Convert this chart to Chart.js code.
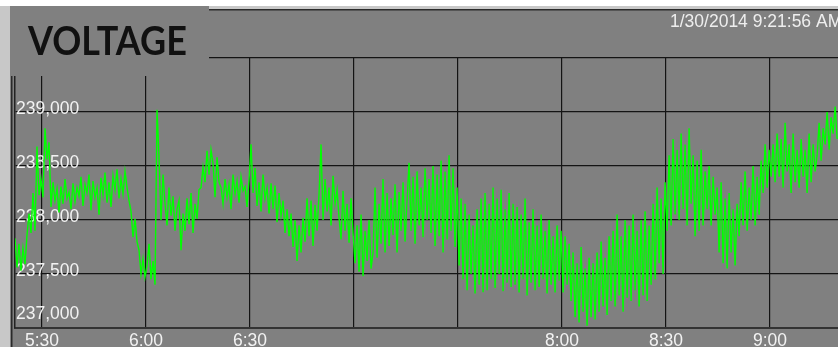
<!DOCTYPE html>
<html>
<head>
<meta charset="utf-8">
<title>Voltage</title>
<script src="https://cdn.jsdelivr.net/npm/chart.js@4.4.1/dist/chart.umd.min.js"></script>
<style>
  html, body { margin: 0; padding: 0; background: #fff; overflow: hidden; }
  #chart { display: block; }
</style>
</head>
<body>
<canvas id="chart" width="838" height="347"></canvas>
<script>
var chartTitle = "VOLTAGE";
var stampText = "1/30/2014 9:21:56 AM";

// minutes after midnight, one reading every ~35 s
var startMinute = 322.2;
var stepMinutes = 0.577;
var endMinute = 559.6;

var tickMinutes = [330, 360, 390, 420, 450, 480, 510, 540];
var timeLabels = ["5:30", "6:00", "6:30", "", "", "8:00", "8:30", "9:00"];
var voltTicks = [237000, 237500, 238000, 238500, 239000, 239500];

var voltage = [
  237830, 237560, 237780, 237530, 237740, 237590, 237860,
  238060, 237880, 238250,
  237900, 238680, 238230, 238380,
  238210, 238850, 238560, 238720,
  238120, 238350, 238180, 238290, 238070, 238310, 238150, 238380, 238200, 238260, 238100, 238340, 238170, 238300, 238220,
  238400, 238130, 238330, 238250, 238420, 238090, 238360, 238210, 238300, 238050, 238390, 238230, 238440, 238160, 238350, 238120, 238410, 238280,
  238470, 238200, 238380, 238240, 238450, 238300, 238180,
  238080, 237840, 238010, 237800,
  237720, 237500, 237640, 237470, 237580,
  237780, 237450, 237620, 237400,
  239020,
  238580, 238000, 238420,
  238150, 237950, 238300, 238040, 238220, 237900, 238100, 238180, 237720,
  238060, 237900, 238200, 237960, 238250, 237880, 238150, 238010, 238280,
  238300, 238490, 238350, 238640, 238420, 238650, 238520,
  238210, 238580, 238350,
  238300, 238150, 238380, 238210, 238330, 238100, 238420, 238240, 238360, 238160, 238400, 238270, 238310, 238120, 238370,
  238700,
  238250, 238480, 238130, 238350, 238080, 238420, 238200, 238300, 238060, 238340,
  238100, 238320, 237980, 238250, 238040, 238180,
  237880, 238100, 237850, 238060,
  237750, 238000, 237620, 237950, 237700, 238020,
  237800, 238200, 237850, 238180, 237760, 238140, 237900, 238240,
  238700,
  238000, 238380, 238080, 238300, 237950, 238410, 238150, 238280, 238020,
  237820, 238270, 237900, 238150, 237790, 238200, 237880,
  237600, 237950, 237520, 238050, 237480, 237900, 237620, 238000, 237550,
  237700, 238300, 237650, 238150, 237780, 238380, 237700, 238250,
  237760, 238200, 237860, 238330, 237700, 238260, 237900, 238350, 237800, 238180,
  238530,
  237900, 238400, 237780, 238450, 237950, 238300, 237840, 238480, 238000, 238380, 237880,
  238500, 237760, 238420, 237850, 238550, 237700, 238450, 237820, 238600, 237900, 238480, 237750,
  238300, 237580, 238200,
  237450, 238150, 237350, 238050, 237500, 237950, 237320,
  238100, 237400, 238200, 237330,
  238250, 237350, 238150, 237450, 238300, 237370, 238200, 237500, 238280, 237340, 238100, 237420, 238250, 237380, 238150,
  237400, 238120, 237330, 238050, 237450, 238200, 237300, 237980, 237420, 238100, 237350, 237950,
  237380, 238050, 237450, 237900, 237320, 238000, 237400, 237850, 237330, 237950, 237440, 237900,
  237330, 237850, 237400, 237780,
  237250, 237700, 237100, 237600, 237050, 237750, 237150, 237550, 237020, 237650,
  237100, 237600, 237080,
  237700, 237150, 237800, 237200, 237650, 237120, 237850, 237250,
  237900, 237200, 238050, 237300, 237850, 237150, 238000, 237280,
  237950, 237250, 238050, 237350, 237900, 237200, 238000, 237300, 238080, 237250, 237950, 237400,
  238150, 237450, 238300, 237600, 238200, 237500, 238350,
  237900, 238600, 237950, 238750, 238050, 238650,
  238000, 238800, 238100, 238700, 237950, 238850, 238150,
  238600, 237850, 238550, 237900, 238650, 237950, 238450,
  238100, 238500, 237950, 238400, 238050, 238300,
  237700, 238350, 237600, 238200, 237550, 238250, 237700, 238100, 237580, 238150,
  237850, 238350, 237950, 238450, 237900, 238300, 238000, 238500, 237950, 238400, 238050, 238550,
  238250, 238700, 238300, 238650, 238400,
  238700, 238350, 238800, 238400, 238750, 238300, 238900, 238450, 238700, 238250, 238800, 238350, 238650,
  238300, 238750, 238400, 238650, 238250, 238800, 238350, 238700, 238450,
  238600, 238900, 238550, 238850, 238700, 239000, 238650, 238950, 238800, 239050, 238750
];

Chart.defaults.font.family = "'Liberation Sans', Arial, sans-serif";

var frame = {
  id: "frame",
  beforeDraw: function(chart) {
    var ctx = chart.ctx, w = chart.width, h = chart.height;
    ctx.save();
    ctx.fillStyle = "#808080";
    ctx.fillRect(0, 0, w, h);
    ctx.fillStyle = "#ffffff";
    ctx.fillRect(0, 0, w, 6);
    ctx.fillStyle = "#c8c8c8";
    ctx.fillRect(209, 6, w - 209, 3);
    ctx.fillRect(0, 6, 10, h - 6);
    ctx.fillStyle = "#2a2a2a";
    ctx.fillRect(209, 9, w - 209, 1.5);
    ctx.fillRect(11, 76, 1.5, h - 76);
    ctx.restore();
  },
  beforeDatasetsDraw: function(chart) {
    // value labels sit inside the plot, just over their grid lines
    var ctx = chart.ctx, y = chart.scales.y, area = chart.chartArea;
    ctx.save();
    ctx.font = "17.5px 'Liberation Sans', Arial, sans-serif";
    ctx.fillStyle = "#f2f2f2";
    ctx.textAlign = "left";
    ctx.textBaseline = "middle";
    voltTicks.forEach(function(v) {
      var py = Math.min(y.getPixelForValue(v) - 3, area.bottom - 14);
      ctx.fillText(v.toLocaleString("en-US"), area.left + 1, py);
    });
    ctx.restore();
  },
  afterDraw: function(chart) {
    var ctx = chart.ctx;
    ctx.save();
    ctx.fillStyle = "#808080";
    ctx.fillRect(10, 6, 199, 70);
    ctx.fillStyle = "#111111";
    ctx.font = "bold 40px Lato, 'Open Sans', sans-serif";
    ctx.textBaseline = "alphabetic";
    ctx.fillText(chartTitle, 28, 55, 159);
    ctx.fillStyle = "#eeeeee";
    ctx.font = "17.5px 'Liberation Sans', Arial, sans-serif";
    ctx.fillText(stampText, 670, 27);
    ctx.restore();
  }
};

var ctx = document.getElementById("chart");
var myChart = new Chart(ctx, {
  type: "line",
  data: {
    datasets: [
      {
        label: "Voltage",
        data: voltage.map(function(v, i) {
          return { x: startMinute + i * stepMinutes, y: v };
        }),
        borderColor: "#00ff00",
        borderWidth: 1.4,
        pointRadius: 0,
        tension: 0,
        fill: false
      }
    ]
  },
  options: {
    responsive: false,
    animation: false,
    devicePixelRatio: 1,
    layout: { padding: { left: 15, top: 58, right: 0, bottom: 0 } },
    plugins: {
      legend: { display: false },
      tooltip: { enabled: false }
    },
    scales: {
      x: {
        type: "linear",
        min: startMinute,
        max: endMinute,
        afterBuildTicks: function(scale) {
          scale.ticks = tickMinutes.map(function(m) { return { value: m }; });
        },
        afterFit: function(scale) { scale.height = 19; },
        ticks: {
          autoSkip: false,
          maxRotation: 0,
          padding: 3,
          color: "#f2f2f2",
          font: { size: 17.5 },
          callback: function(value, index) { return timeLabels[index]; }
        },
        grid: { color: "#141414", lineWidth: 1.2, drawTicks: false },
        border: { display: true, color: "#333333", width: 2 }
      },
      y: {
        min: 237000,
        max: 239500,
        afterFit: function(scale) { scale.width = 0; },
        ticks: { display: false, stepSize: 500 },
        grid: { color: "#141414", lineWidth: 1.2, drawTicks: false },
        border: { display: true, color: "#222222", width: 1.5 }
      }
    }
  },
  plugins: [frame]
});
</script>
</body>
</html>
